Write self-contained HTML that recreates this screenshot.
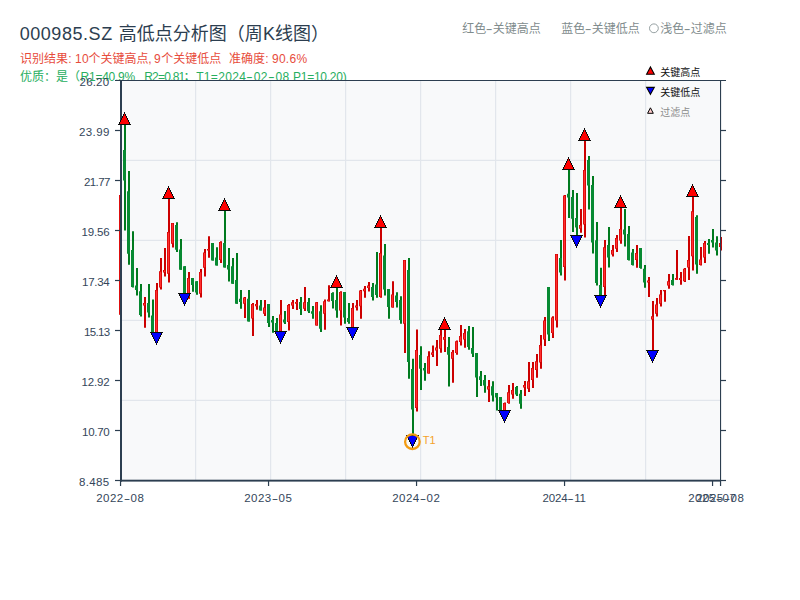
<!DOCTYPE html>
<html lang="zh"><head><meta charset="utf-8"><title>000985.SZ 高低点分析图</title><style>
html,body{margin:0;padding:0;background:#fff}
body{width:800px;height:600px;position:relative;overflow:hidden;font-family:"Liberation Sans","Noto Sans CJK SC",sans-serif}
.ln{position:absolute;left:0;width:800px;white-space:nowrap}
.r{position:absolute;top:0}
.hy{display:inline-block;font-style:normal;text-align:center;transform:scaleX(1.7)}
.chart{position:absolute;left:0;top:0}
.title{color:#2c3e50}
.red{color:#e74c3c}
.green{color:#27ae60}
.gray{color:#7f8c8d}
.ax{color:#34465a}
.t1{color:#f4a22a}
.lg{color:#111}
.lgf{color:#8c8c8c}
</style></head><body><div class="ln title" style="top:21.26px;font-size:18px;line-height:27px;height:27px;"><span class="r" style="left:19.7px"><span style="letter-spacing:0.548px">000985.SZ</span></span><span class="r" style="left:118.7px">高低点分析图（周</span><span class="r" style="left:263.0px"><span>K</span></span><span class="r" style="left:275.0px">线图）</span></div><div class="ln red" style="top:50.04px;font-size:12px;line-height:18px;height:18px;"><span class="r" style="left:20px">识别结果</span><span class="r" style="left:68.2px"><span>:</span></span><span class="r" style="left:75px"><span style="letter-spacing:0.426px">10</span></span><span class="r" style="left:88.6px">个关键高点</span><span class="r" style="left:148.2px"><span>,</span></span><span class="r" style="left:153.9px"><span>9</span></span><span class="r" style="left:161.2px">个关键低点</span><span class="r" style="left:229px">准确度</span><span class="r" style="left:265.3px"><span>:</span></span><span class="r" style="left:272px"><span style="letter-spacing:0.255px">90.6%</span></span></div><div class="ln green" style="top:68.44px;font-size:12px;line-height:18px;height:18px;"><span class="r" style="left:20px">优质</span><span class="r" style="left:44px">：</span><span class="r" style="left:56px">是（</span><span class="r" style="left:80.6px"><span style="letter-spacing:-0.272px">R1=40.9%</span></span><span class="r" style="left:144.2px"><span style="letter-spacing:-0.772px">R2=0.81</span></span><span class="r" style="left:183.5px">；</span><span class="r" style="left:196.2px"><span style="letter-spacing:0.338px">T1=2024<i class="hy" style="width:7.6px">-</i>02<i class="hy" style="width:7.6px">-</i>08</span></span><span class="r" style="left:293.0px"><span style="letter-spacing:-0.257px">P1=10.20)</span></span></div><div class="ln gray" style="top:19.64px;font-size:12px;line-height:18px;height:18px;"><span class="r" style="left:462.3px">红色</span><span class="r" style="left:486.3px"><span><i class="hy" style="width:6.5px">-</i></span></span><span class="r" style="left:492.8px">关键高点</span><span class="r" style="left:561.3px">蓝色</span><span class="r" style="left:585.3px"><span><i class="hy" style="width:6.5px">-</i></span></span><span class="r" style="left:591.8px">关键低点</span><span class="r" style="left:660.3px">浅色</span><span class="r" style="left:684.3px"><span><i class="hy" style="width:6.5px">-</i></span></span><span class="r" style="left:690.8px">过滤点</span></div><svg class="chart" width="800" height="600" viewBox="0 0 800 600"><rect x="121" y="80.5" width="599.5" height="400" fill="#f8f9fa"/><rect x="195.0" y="81" width="1.2" height="399" fill="#e2e6ec"/><rect x="270.0" y="81" width="1.2" height="399" fill="#e2e6ec"/><rect x="345.0" y="81" width="1.2" height="399" fill="#e2e6ec"/><rect x="420.0" y="81" width="1.2" height="399" fill="#e2e6ec"/><rect x="495.0" y="81" width="1.2" height="399" fill="#e2e6ec"/><rect x="570.0" y="81" width="1.2" height="399" fill="#e2e6ec"/><rect x="645.0" y="81" width="1.2" height="399" fill="#e2e6ec"/><rect x="122" y="159.8" width="598" height="1.2" fill="#e2e6ec"/><rect x="122" y="239.8" width="598" height="1.2" fill="#e2e6ec"/><rect x="122" y="319.8" width="598" height="1.2" fill="#e2e6ec"/><rect x="122" y="399.8" width="598" height="1.2" fill="#e2e6ec"/><path d="M120 195.00h2V314.75h-2zM144 296.90h2V327.75h-2zM156 283.10h2V338.00h-2zM160 258.10h2V289.50h-2zM164 248.10h2V276.60h-2zM168 192.00h2V282.50h-2zM172 223.00h2V247.50h-2zM188 272.10h2V298.75h-2zM200 269.00h2V297.60h-2zM204 249.10h2V276.60h-2zM208 236.20h2V257.75h-2zM220 241.25h2V262.90h-2zM244 296.90h2V317.90h-2zM252 303.10h2V335.90h-2zM256 300.00h2V309.75h-2zM264 300.00h2V315.90h-2zM280 300.00h2V337.00h-2zM288 304.10h2V330.60h-2zM292 300.00h2V309.00h-2zM296 299.00h2V310.00h-2zM304 287.10h2V310.90h-2zM316 301.90h2V325.60h-2zM324 299.40h2V329.75h-2zM328 285.25h2V301.50h-2zM340 291.25h2V325.60h-2zM352 303.10h2V333.00h-2zM356 300.00h2V310.60h-2zM360 290.00h2V318.75h-2zM364 286.00h2V297.75h-2zM368 282.10h2V291.50h-2zM380 221.00h2V297.75h-2zM392 281.25h2V307.50h-2zM404 260.00h2V352.90h-2zM416 329.40h2V411.60h-2zM428 351.25h2V373.60h-2zM432 345.40h2V356.90h-2zM436 340.00h2V365.90h-2zM440 327.00h2V352.75h-2zM444 323.00h2V351.90h-2zM452 350.00h2V382.70h-2zM456 340.60h2V354.75h-2zM460 325.00h2V345.60h-2zM464 329.00h2V347.75h-2zM488 380.00h2V401.90h-2zM504 402.50h2V416.00h-2zM508 385.00h2V403.75h-2zM512 382.90h2V398.75h-2zM524 381.00h2V396.00h-2zM528 361.90h2V391.90h-2zM532 361.90h2V387.90h-2zM536 354.00h2V377.75h-2zM540 335.00h2V368.75h-2zM544 316.90h2V345.90h-2zM552 316.25h2V337.90h-2zM556 254.10h2V327.50h-2zM564 195.00h2V280.60h-2zM580 209.10h2V232.75h-2zM584 134.00h2V237.50h-2zM604 240.00h2V296.00h-2zM612 245.00h2V256.50h-2zM616 235.00h2V251.90h-2zM620 201.00h2V243.75h-2zM636 245.00h2V267.75h-2zM648 276.90h2V296.90h-2zM652 301.00h2V356.00h-2zM656 298.10h2V316.50h-2zM660 290.00h2V306.60h-2zM664 290.00h2V301.70h-2zM668 274.00h2V288.75h-2zM676 250.00h2V279.75h-2zM680 272.10h2V284.75h-2zM684 268.10h2V281.90h-2zM688 236.00h2V280.00h-2zM692 190.00h2V270.60h-2zM700 246.90h2V265.60h-2zM704 241.00h2V262.90h-2zM720 236.90h2V250.60h-2z" fill="#cc0000"/><path d="M124 118.00h2V230.50h-2zM128 171.00h2V264.75h-2zM132 231.20h2V287.50h-2zM136 268.10h2V295.60h-2zM140 284.10h2V316.60h-2zM148 284.10h2V317.50h-2zM152 299.40h2V333.50h-2zM176 222.20h2V251.90h-2zM180 239.00h2V269.75h-2zM184 266.25h2V299.00h-2zM192 278.10h2V291.75h-2zM196 281.25h2V294.75h-2zM212 243.10h2V260.60h-2zM216 247.25h2V265.60h-2zM224 204.00h2V267.50h-2zM228 248.10h2V281.60h-2zM232 258.10h2V283.75h-2zM236 252.90h2V303.75h-2zM240 290.00h2V308.75h-2zM248 290.00h2V321.60h-2zM260 300.00h2V310.60h-2zM268 304.10h2V326.90h-2zM272 316.00h2V332.75h-2zM276 318.10h2V335.00h-2zM284 311.00h2V324.00h-2zM300 296.90h2V315.00h-2zM308 298.10h2V312.90h-2zM312 306.00h2V318.75h-2zM320 305.25h2V331.90h-2zM332 292.25h2V308.50h-2zM336 281.00h2V317.75h-2zM344 291.90h2V323.75h-2zM348 303.10h2V323.75h-2zM372 283.10h2V300.60h-2zM376 251.90h2V297.75h-2zM384 244.10h2V295.60h-2zM388 289.00h2V318.75h-2zM396 292.25h2V307.50h-2zM400 296.25h2V323.75h-2zM408 258.10h2V378.75h-2zM412 358.75h2V436.00h-2zM420 346.25h2V390.00h-2zM424 363.10h2V380.80h-2zM448 336.90h2V386.60h-2zM468 326.00h2V349.75h-2zM472 326.90h2V356.90h-2zM476 353.10h2V396.90h-2zM480 371.00h2V385.90h-2zM484 375.00h2V392.75h-2zM492 381.25h2V401.60h-2zM496 393.10h2V410.60h-2zM500 397.10h2V412.00h-2zM516 386.00h2V396.00h-2zM520 390.00h2V408.75h-2zM548 286.90h2V340.90h-2zM560 240.00h2V275.60h-2zM568 163.00h2V217.90h-2zM572 190.00h2V231.90h-2zM576 193.10h2V241.00h-2zM588 156.00h2V209.40h-2zM592 176.00h2V253.50h-2zM596 222.10h2V285.60h-2zM600 267.80h2V301.00h-2zM608 227.10h2V267.50h-2zM624 209.00h2V246.60h-2zM628 226.00h2V260.60h-2zM632 249.00h2V265.60h-2zM640 248.10h2V268.75h-2zM644 265.00h2V287.75h-2zM672 274.00h2V285.60h-2zM696 215.25h2V273.75h-2zM708 239.00h2V253.75h-2zM712 229.00h2V247.50h-2zM716 236.25h2V255.60h-2z" fill="#007a1e"/><path d="M119 195.00h3V314.75h-3zM143 303.10h3V305.60h-3zM155 290.00h3V335.00h-3zM159 271.25h3V287.50h-3zM163 270.00h3V272.50h-3zM167 232.00h3V273.75h-3zM171 223.00h3V243.75h-3zM187 278.10h3V298.75h-3zM199 271.90h3V293.75h-3zM203 252.50h3V267.75h-3zM207 249.10h3V250.60h-3zM219 242.00h3V260.00h-3zM243 297.50h3V303.75h-3zM251 304.00h3V318.50h-3zM255 304.00h3V306.25h-3zM263 307.50h3V313.75h-3zM279 314.40h3V335.00h-3zM287 305.00h3V321.90h-3zM291 302.25h3V305.60h-3zM295 301.90h3V303.75h-3zM303 302.25h3V308.75h-3zM315 302.25h3V325.60h-3zM323 301.25h3V313.75h-3zM327 299.40h3V301.25h-3zM339 291.90h3V310.60h-3zM351 308.10h3V330.00h-3zM355 305.60h3V307.50h-3zM359 290.60h3V306.25h-3zM363 288.75h3V291.25h-3zM367 285.60h3V288.10h-3zM379 253.10h3V296.90h-3zM391 294.40h3V307.50h-3zM403 260.00h3V323.75h-3zM415 350.00h3V408.00h-3zM427 356.25h3V373.60h-3zM431 352.50h3V354.75h-3zM435 347.50h3V350.60h-3zM439 335.00h3V348.75h-3zM443 336.90h3V339.75h-3zM451 351.90h3V358.75h-3zM455 341.25h3V353.10h-3zM459 336.00h3V341.90h-3zM463 333.10h3V339.40h-3zM487 386.25h3V389.40h-3zM503 403.00h3V414.00h-3zM507 392.25h3V403.10h-3zM511 390.00h3V394.40h-3zM523 385.00h3V387.50h-3zM527 381.25h3V388.75h-3zM531 368.10h3V380.00h-3zM535 361.25h3V370.00h-3zM539 345.00h3V362.50h-3zM543 320.60h3V339.40h-3zM551 317.50h3V333.10h-3zM555 254.10h3V320.60h-3zM563 195.60h3V266.90h-3zM579 225.00h3V228.75h-3zM583 170.00h3V224.40h-3zM603 247.25h3V286.90h-3zM611 250.00h3V254.40h-3zM615 238.00h3V248.75h-3zM619 229.10h3V240.60h-3zM635 253.10h3V260.00h-3zM647 280.60h3V282.50h-3zM651 316.25h3V319.40h-3zM655 304.40h3V313.75h-3zM659 294.40h3V303.75h-3zM663 290.00h3V291.25h-3zM667 281.25h3V285.60h-3zM675 278.10h3V279.75h-3zM679 278.10h3V280.00h-3zM683 268.75h3V281.25h-3zM687 260.00h3V267.50h-3zM691 211.25h3V256.25h-3zM699 259.40h3V265.00h-3zM703 243.10h3V257.50h-3zM719 243.10h3V246.90h-3z" fill="#d00000"/><path d="M119.7 195.40h1.5V314.35h-1.5zM143.7 303.50h1.5V305.20h-1.5zM155.7 290.40h1.5V334.60h-1.5zM159.7 271.65h1.5V287.10h-1.5zM163.7 270.40h1.5V272.10h-1.5zM167.7 232.40h1.5V273.35h-1.5zM171.7 223.40h1.5V243.35h-1.5zM187.7 278.50h1.5V298.35h-1.5zM199.7 272.30h1.5V293.35h-1.5zM203.7 252.90h1.5V267.35h-1.5zM207.7 249.50h1.5V250.20h-1.5zM219.7 242.40h1.5V259.60h-1.5zM243.7 297.90h1.5V303.35h-1.5zM251.7 304.40h1.5V318.10h-1.5zM255.7 304.40h1.5V305.85h-1.5zM263.7 307.90h1.5V313.35h-1.5zM279.7 314.80h1.5V334.60h-1.5zM287.7 305.40h1.5V321.50h-1.5zM291.7 302.65h1.5V305.20h-1.5zM295.7 302.30h1.5V303.35h-1.5zM303.7 302.65h1.5V308.35h-1.5zM315.7 302.65h1.5V325.20h-1.5zM323.7 301.65h1.5V313.35h-1.5zM327.7 299.80h1.5V300.85h-1.5zM339.7 292.30h1.5V310.20h-1.5zM351.7 308.50h1.5V329.60h-1.5zM355.7 306.00h1.5V307.10h-1.5zM359.7 291.00h1.5V305.85h-1.5zM363.7 289.15h1.5V290.85h-1.5zM367.7 286.00h1.5V287.70h-1.5zM379.7 253.50h1.5V296.50h-1.5zM391.7 294.80h1.5V307.10h-1.5zM403.7 260.40h1.5V323.35h-1.5zM415.7 350.40h1.5V407.60h-1.5zM427.7 356.65h1.5V373.20h-1.5zM431.7 352.90h1.5V354.35h-1.5zM435.7 347.90h1.5V350.20h-1.5zM439.7 335.40h1.5V348.35h-1.5zM443.7 337.30h1.5V339.35h-1.5zM451.7 352.30h1.5V358.35h-1.5zM455.7 341.65h1.5V352.70h-1.5zM459.7 336.40h1.5V341.50h-1.5zM463.7 333.50h1.5V339.00h-1.5zM487.7 386.65h1.5V389.00h-1.5zM503.7 403.40h1.5V413.60h-1.5zM507.7 392.65h1.5V402.70h-1.5zM511.7 390.40h1.5V394.00h-1.5zM523.7 385.40h1.5V387.10h-1.5zM527.7 381.65h1.5V388.35h-1.5zM531.7 368.50h1.5V379.60h-1.5zM535.7 361.65h1.5V369.60h-1.5zM539.7 345.40h1.5V362.10h-1.5zM543.7 321.00h1.5V339.00h-1.5zM551.7 317.90h1.5V332.70h-1.5zM555.7 254.50h1.5V320.20h-1.5zM563.7 196.00h1.5V266.50h-1.5zM579.7 225.40h1.5V228.35h-1.5zM583.7 170.40h1.5V224.00h-1.5zM603.7 247.65h1.5V286.50h-1.5zM611.7 250.40h1.5V254.00h-1.5zM615.7 238.40h1.5V248.35h-1.5zM619.7 229.50h1.5V240.20h-1.5zM635.7 253.50h1.5V259.60h-1.5zM647.7 281.00h1.5V282.10h-1.5zM651.7 316.65h1.5V319.00h-1.5zM655.7 304.80h1.5V313.35h-1.5zM659.7 294.80h1.5V303.35h-1.5zM663.7 290.40h1.5V290.85h-1.5zM667.7 281.65h1.5V285.20h-1.5zM675.7 278.50h1.5V279.35h-1.5zM679.7 278.50h1.5V279.60h-1.5zM683.7 269.15h1.5V280.85h-1.5zM687.7 260.40h1.5V267.10h-1.5zM691.7 211.65h1.5V255.85h-1.5zM699.7 259.80h1.5V264.60h-1.5zM703.7 243.50h1.5V257.10h-1.5zM719.7 243.50h1.5V246.50h-1.5z" fill="#ff3030"/><path d="M123 150.00h3V180.50h-3zM127 191.20h3V253.75h-3zM131 250.00h3V287.00h-3zM135 285.60h3V290.00h-3zM139 291.20h3V315.00h-3zM147 303.10h3V312.50h-3zM151 315.60h3V333.50h-3zM175 225.00h3V249.75h-3zM179 249.40h3V269.75h-3zM183 266.25h3V299.00h-3zM191 278.10h3V285.00h-3zM195 281.25h3V292.50h-3zM211 243.10h3V260.60h-3zM215 257.50h3V265.60h-3zM223 243.10h3V267.40h-3zM227 265.00h3V269.40h-3zM231 266.25h3V283.75h-3zM235 280.00h3V303.75h-3zM239 298.75h3V301.90h-3zM247 298.75h3V321.60h-3zM259 305.60h3V310.60h-3zM267 304.10h3V323.10h-3zM271 320.00h3V322.50h-3zM275 323.10h3V333.00h-3zM283 319.40h3V322.50h-3zM299 301.90h3V309.00h-3zM307 301.90h3V311.25h-3zM311 311.25h3V313.75h-3zM319 311.25h3V328.75h-3zM331 293.00h3V301.00h-3zM335 300.00h3V310.60h-3zM343 291.90h3V317.50h-3zM347 318.10h3V321.90h-3zM371 286.90h3V296.90h-3zM375 284.40h3V295.00h-3zM383 255.60h3V289.40h-3zM387 289.00h3V306.90h-3zM395 295.60h3V301.90h-3zM399 300.00h3V320.00h-3zM407 270.00h3V361.90h-3zM411 369.00h3V409.40h-3zM419 355.00h3V368.75h-3zM423 368.10h3V370.60h-3zM447 346.90h3V354.75h-3zM467 331.25h3V346.90h-3zM471 348.10h3V353.75h-3zM475 353.10h3V377.50h-3zM479 376.25h3V380.00h-3zM483 380.00h3V385.60h-3zM491 386.25h3V395.60h-3zM495 393.10h3V397.50h-3zM499 397.10h3V412.00h-3zM515 386.90h3V394.40h-3zM519 393.75h3V403.75h-3zM547 286.90h3V334.40h-3zM559 258.10h3V272.50h-3zM567 193.75h3V197.50h-3zM571 196.90h3V218.75h-3zM575 218.00h3V227.50h-3zM587 160.00h3V185.60h-3zM591 185.00h3V242.50h-3zM595 240.25h3V283.10h-3zM599 285.00h3V301.00h-3zM607 245.00h3V257.50h-3zM623 229.40h3V234.60h-3zM627 234.00h3V260.00h-3zM631 252.50h3V265.00h-3zM639 248.10h3V268.10h-3zM643 268.75h3V282.50h-3zM671 280.00h3V285.00h-3zM695 216.90h3V264.40h-3zM707 243.10h3V245.00h-3zM711 240.00h3V242.50h-3zM715 242.50h3V250.60h-3z" fill="#078a32"/><rect x="120" y="80" width="2" height="401.6" fill="#2c3e50"/><rect x="120" y="479.7" width="601" height="1.9" fill="#2c3e50"/><rect x="115" y="80" width="611" height="1" fill="#2c3e50"/><rect x="720" y="80" width="1.1" height="401" fill="#2c3e50"/><rect x="115" y="129.9" width="5.5" height="1.2" fill="#2c3e50"/><rect x="720.5" y="129.9" width="5.5" height="1.2" fill="#2c3e50"/><rect x="115" y="179.9" width="5.5" height="1.2" fill="#2c3e50"/><rect x="720.5" y="179.9" width="5.5" height="1.2" fill="#2c3e50"/><rect x="115" y="229.9" width="5.5" height="1.2" fill="#2c3e50"/><rect x="720.5" y="229.9" width="5.5" height="1.2" fill="#2c3e50"/><rect x="115" y="279.9" width="5.5" height="1.2" fill="#2c3e50"/><rect x="720.5" y="279.9" width="5.5" height="1.2" fill="#2c3e50"/><rect x="115" y="329.9" width="5.5" height="1.2" fill="#2c3e50"/><rect x="720.5" y="329.9" width="5.5" height="1.2" fill="#2c3e50"/><rect x="115" y="379.9" width="5.5" height="1.2" fill="#2c3e50"/><rect x="720.5" y="379.9" width="5.5" height="1.2" fill="#2c3e50"/><rect x="115" y="429.9" width="5.5" height="1.2" fill="#2c3e50"/><rect x="720.5" y="429.9" width="5.5" height="1.2" fill="#2c3e50"/><rect x="115" y="479.9" width="5.5" height="1.2" fill="#2c3e50"/><rect x="720.5" y="479.9" width="5.5" height="1.2" fill="#2c3e50"/><rect x="119.95" y="481" width="1.2" height="5" fill="#2c3e50"/><rect x="267.95" y="481" width="1.2" height="5" fill="#2c3e50"/><rect x="415.95" y="481" width="1.2" height="5" fill="#2c3e50"/><rect x="563.95" y="481" width="1.2" height="5" fill="#2c3e50"/><rect x="711.95" y="481" width="1.2" height="5" fill="#2c3e50"/><rect x="719.95" y="481" width="1.2" height="5" fill="#2c3e50"/><path d="M124 112h1v1h-1zM124 113h1v1h-1zM123 114h3v1h-3zM123 115h3v1h-3zM122 116h5v1h-5zM122 117h5v1h-5zM121 118h7v1h-7zM121 119h7v1h-7zM120 120h9v1h-9zM120 121h9v1h-9zM119 122h11v1h-11zM119 123h11v1h-11zM118 124h13v1h-13z" fill="#0a0a0a"/><path d="M124 114h1v1h-1zM124 115h1v1h-1zM123 116h3v1h-3zM123 117h3v1h-3zM122 118h5v1h-5zM122 119h5v1h-5zM121 120h7v1h-7zM121 121h7v1h-7zM120 122h9v1h-9zM120 123h9v1h-9z" fill="#ff0000"/><path d="M168 186h1v1h-1zM168 187h1v1h-1zM167 188h3v1h-3zM167 189h3v1h-3zM166 190h5v1h-5zM166 191h5v1h-5zM165 192h7v1h-7zM165 193h7v1h-7zM164 194h9v1h-9zM164 195h9v1h-9zM163 196h11v1h-11zM163 197h11v1h-11zM162 198h13v1h-13z" fill="#0a0a0a"/><path d="M168 188h1v1h-1zM168 189h1v1h-1zM167 190h3v1h-3zM167 191h3v1h-3zM166 192h5v1h-5zM166 193h5v1h-5zM165 194h7v1h-7zM165 195h7v1h-7zM164 196h9v1h-9zM164 197h9v1h-9z" fill="#ff0000"/><path d="M224 198h1v1h-1zM224 199h1v1h-1zM223 200h3v1h-3zM223 201h3v1h-3zM222 202h5v1h-5zM222 203h5v1h-5zM221 204h7v1h-7zM221 205h7v1h-7zM220 206h9v1h-9zM220 207h9v1h-9zM219 208h11v1h-11zM219 209h11v1h-11zM218 210h13v1h-13z" fill="#0a0a0a"/><path d="M224 200h1v1h-1zM224 201h1v1h-1zM223 202h3v1h-3zM223 203h3v1h-3zM222 204h5v1h-5zM222 205h5v1h-5zM221 206h7v1h-7zM221 207h7v1h-7zM220 208h9v1h-9zM220 209h9v1h-9z" fill="#ff0000"/><path d="M336 275h1v1h-1zM336 276h1v1h-1zM335 277h3v1h-3zM335 278h3v1h-3zM334 279h5v1h-5zM334 280h5v1h-5zM333 281h7v1h-7zM333 282h7v1h-7zM332 283h9v1h-9zM332 284h9v1h-9zM331 285h11v1h-11zM331 286h11v1h-11zM330 287h13v1h-13z" fill="#0a0a0a"/><path d="M336 277h1v1h-1zM336 278h1v1h-1zM335 279h3v1h-3zM335 280h3v1h-3zM334 281h5v1h-5zM334 282h5v1h-5zM333 283h7v1h-7zM333 284h7v1h-7zM332 285h9v1h-9zM332 286h9v1h-9z" fill="#ff0000"/><path d="M380 215h1v1h-1zM380 216h1v1h-1zM379 217h3v1h-3zM379 218h3v1h-3zM378 219h5v1h-5zM378 220h5v1h-5zM377 221h7v1h-7zM377 222h7v1h-7zM376 223h9v1h-9zM376 224h9v1h-9zM375 225h11v1h-11zM375 226h11v1h-11zM374 227h13v1h-13z" fill="#0a0a0a"/><path d="M380 217h1v1h-1zM380 218h1v1h-1zM379 219h3v1h-3zM379 220h3v1h-3zM378 221h5v1h-5zM378 222h5v1h-5zM377 223h7v1h-7zM377 224h7v1h-7zM376 225h9v1h-9zM376 226h9v1h-9z" fill="#ff0000"/><path d="M444 317h1v1h-1zM444 318h1v1h-1zM443 319h3v1h-3zM443 320h3v1h-3zM442 321h5v1h-5zM442 322h5v1h-5zM441 323h7v1h-7zM441 324h7v1h-7zM440 325h9v1h-9zM440 326h9v1h-9zM439 327h11v1h-11zM439 328h11v1h-11zM438 329h13v1h-13z" fill="#0a0a0a"/><path d="M444 319h1v1h-1zM444 320h1v1h-1zM443 321h3v1h-3zM443 322h3v1h-3zM442 323h5v1h-5zM442 324h5v1h-5zM441 325h7v1h-7zM441 326h7v1h-7zM440 327h9v1h-9zM440 328h9v1h-9z" fill="#ff0000"/><path d="M568 157h1v1h-1zM568 158h1v1h-1zM567 159h3v1h-3zM567 160h3v1h-3zM566 161h5v1h-5zM566 162h5v1h-5zM565 163h7v1h-7zM565 164h7v1h-7zM564 165h9v1h-9zM564 166h9v1h-9zM563 167h11v1h-11zM563 168h11v1h-11zM562 169h13v1h-13z" fill="#0a0a0a"/><path d="M568 159h1v1h-1zM568 160h1v1h-1zM567 161h3v1h-3zM567 162h3v1h-3zM566 163h5v1h-5zM566 164h5v1h-5zM565 165h7v1h-7zM565 166h7v1h-7zM564 167h9v1h-9zM564 168h9v1h-9z" fill="#ff0000"/><path d="M584 128h1v1h-1zM584 129h1v1h-1zM583 130h3v1h-3zM583 131h3v1h-3zM582 132h5v1h-5zM582 133h5v1h-5zM581 134h7v1h-7zM581 135h7v1h-7zM580 136h9v1h-9zM580 137h9v1h-9zM579 138h11v1h-11zM579 139h11v1h-11zM578 140h13v1h-13z" fill="#0a0a0a"/><path d="M584 130h1v1h-1zM584 131h1v1h-1zM583 132h3v1h-3zM583 133h3v1h-3zM582 134h5v1h-5zM582 135h5v1h-5zM581 136h7v1h-7zM581 137h7v1h-7zM580 138h9v1h-9zM580 139h9v1h-9z" fill="#ff0000"/><path d="M620 195h1v1h-1zM620 196h1v1h-1zM619 197h3v1h-3zM619 198h3v1h-3zM618 199h5v1h-5zM618 200h5v1h-5zM617 201h7v1h-7zM617 202h7v1h-7zM616 203h9v1h-9zM616 204h9v1h-9zM615 205h11v1h-11zM615 206h11v1h-11zM614 207h13v1h-13z" fill="#0a0a0a"/><path d="M620 197h1v1h-1zM620 198h1v1h-1zM619 199h3v1h-3zM619 200h3v1h-3zM618 201h5v1h-5zM618 202h5v1h-5zM617 203h7v1h-7zM617 204h7v1h-7zM616 205h9v1h-9zM616 206h9v1h-9z" fill="#ff0000"/><path d="M692 184h1v1h-1zM692 185h1v1h-1zM691 186h3v1h-3zM691 187h3v1h-3zM690 188h5v1h-5zM690 189h5v1h-5zM689 190h7v1h-7zM689 191h7v1h-7zM688 192h9v1h-9zM688 193h9v1h-9zM687 194h11v1h-11zM687 195h11v1h-11zM686 196h13v1h-13z" fill="#0a0a0a"/><path d="M692 186h1v1h-1zM692 187h1v1h-1zM691 188h3v1h-3zM691 189h3v1h-3zM690 190h5v1h-5zM690 191h5v1h-5zM689 192h7v1h-7zM689 193h7v1h-7zM688 194h9v1h-9zM688 195h9v1h-9z" fill="#ff0000"/><path d="M156 344h1v1h-1zM156 343h1v1h-1zM155 342h3v1h-3zM155 341h3v1h-3zM154 340h5v1h-5zM154 339h5v1h-5zM153 338h7v1h-7zM153 337h7v1h-7zM152 336h9v1h-9zM152 335h9v1h-9zM151 334h11v1h-11zM151 333h11v1h-11zM150 332h13v1h-13z" fill="#0a0a0a"/><path d="M156 342h1v1h-1zM156 341h1v1h-1zM155 340h3v1h-3zM155 339h3v1h-3zM154 338h5v1h-5zM154 337h5v1h-5zM153 336h7v1h-7zM153 335h7v1h-7zM152 334h9v1h-9zM152 333h9v1h-9z" fill="#0000ff"/><path d="M184 305h1v1h-1zM184 304h1v1h-1zM183 303h3v1h-3zM183 302h3v1h-3zM182 301h5v1h-5zM182 300h5v1h-5zM181 299h7v1h-7zM181 298h7v1h-7zM180 297h9v1h-9zM180 296h9v1h-9zM179 295h11v1h-11zM179 294h11v1h-11zM178 293h13v1h-13z" fill="#0a0a0a"/><path d="M184 303h1v1h-1zM184 302h1v1h-1zM183 301h3v1h-3zM183 300h3v1h-3zM182 299h5v1h-5zM182 298h5v1h-5zM181 297h7v1h-7zM181 296h7v1h-7zM180 295h9v1h-9zM180 294h9v1h-9z" fill="#0000ff"/><path d="M280 343h1v1h-1zM280 342h1v1h-1zM279 341h3v1h-3zM279 340h3v1h-3zM278 339h5v1h-5zM278 338h5v1h-5zM277 337h7v1h-7zM277 336h7v1h-7zM276 335h9v1h-9zM276 334h9v1h-9zM275 333h11v1h-11zM275 332h11v1h-11zM274 331h13v1h-13z" fill="#0a0a0a"/><path d="M280 341h1v1h-1zM280 340h1v1h-1zM279 339h3v1h-3zM279 338h3v1h-3zM278 337h5v1h-5zM278 336h5v1h-5zM277 335h7v1h-7zM277 334h7v1h-7zM276 333h9v1h-9zM276 332h9v1h-9z" fill="#0000ff"/><path d="M352 339h1v1h-1zM352 338h1v1h-1zM351 337h3v1h-3zM351 336h3v1h-3zM350 335h5v1h-5zM350 334h5v1h-5zM349 333h7v1h-7zM349 332h7v1h-7zM348 331h9v1h-9zM348 330h9v1h-9zM347 329h11v1h-11zM347 328h11v1h-11zM346 327h13v1h-13z" fill="#0a0a0a"/><path d="M352 337h1v1h-1zM352 336h1v1h-1zM351 335h3v1h-3zM351 334h3v1h-3zM350 333h5v1h-5zM350 332h5v1h-5zM349 331h7v1h-7zM349 330h7v1h-7zM348 329h9v1h-9zM348 328h9v1h-9z" fill="#0000ff"/><path d="M412 447h1v1h-1zM412 446h1v1h-1zM411 445h3v1h-3zM411 444h3v1h-3zM410 443h5v1h-5zM410 442h5v1h-5zM409 441h7v1h-7zM409 440h7v1h-7zM408 439h9v1h-9zM408 438h9v1h-9zM407 437h11v1h-11zM407 436h11v1h-11zM406 435h13v1h-13z" fill="#0a0a0a"/><path d="M412 445h1v1h-1zM412 444h1v1h-1zM411 443h3v1h-3zM411 442h3v1h-3zM410 441h5v1h-5zM410 440h5v1h-5zM409 439h7v1h-7zM409 438h7v1h-7zM408 437h9v1h-9zM408 436h9v1h-9z" fill="#0000ff"/><path d="M504 422h1v1h-1zM504 421h1v1h-1zM503 420h3v1h-3zM503 419h3v1h-3zM502 418h5v1h-5zM502 417h5v1h-5zM501 416h7v1h-7zM501 415h7v1h-7zM500 414h9v1h-9zM500 413h9v1h-9zM499 412h11v1h-11zM499 411h11v1h-11zM498 410h13v1h-13z" fill="#0a0a0a"/><path d="M504 420h1v1h-1zM504 419h1v1h-1zM503 418h3v1h-3zM503 417h3v1h-3zM502 416h5v1h-5zM502 415h5v1h-5zM501 414h7v1h-7zM501 413h7v1h-7zM500 412h9v1h-9zM500 411h9v1h-9z" fill="#0000ff"/><path d="M576 247h1v1h-1zM576 246h1v1h-1zM575 245h3v1h-3zM575 244h3v1h-3zM574 243h5v1h-5zM574 242h5v1h-5zM573 241h7v1h-7zM573 240h7v1h-7zM572 239h9v1h-9zM572 238h9v1h-9zM571 237h11v1h-11zM571 236h11v1h-11zM570 235h13v1h-13z" fill="#0a0a0a"/><path d="M576 245h1v1h-1zM576 244h1v1h-1zM575 243h3v1h-3zM575 242h3v1h-3zM574 241h5v1h-5zM574 240h5v1h-5zM573 239h7v1h-7zM573 238h7v1h-7zM572 237h9v1h-9zM572 236h9v1h-9z" fill="#0000ff"/><path d="M600 307h1v1h-1zM600 306h1v1h-1zM599 305h3v1h-3zM599 304h3v1h-3zM598 303h5v1h-5zM598 302h5v1h-5zM597 301h7v1h-7zM597 300h7v1h-7zM596 299h9v1h-9zM596 298h9v1h-9zM595 297h11v1h-11zM595 296h11v1h-11zM594 295h13v1h-13z" fill="#0a0a0a"/><path d="M600 305h1v1h-1zM600 304h1v1h-1zM599 303h3v1h-3zM599 302h3v1h-3zM598 301h5v1h-5zM598 300h5v1h-5zM597 299h7v1h-7zM597 298h7v1h-7zM596 297h9v1h-9zM596 296h9v1h-9z" fill="#0000ff"/><path d="M652 362h1v1h-1zM652 361h1v1h-1zM651 360h3v1h-3zM651 359h3v1h-3zM650 358h5v1h-5zM650 357h5v1h-5zM649 356h7v1h-7zM649 355h7v1h-7zM648 354h9v1h-9zM648 353h9v1h-9zM647 352h11v1h-11zM647 351h11v1h-11zM646 350h13v1h-13z" fill="#0a0a0a"/><path d="M652 360h1v1h-1zM652 359h1v1h-1zM651 358h3v1h-3zM651 357h3v1h-3zM650 356h5v1h-5zM650 355h5v1h-5zM649 354h7v1h-7zM649 353h7v1h-7zM648 352h9v1h-9zM648 351h9v1h-9z" fill="#0000ff"/><circle cx="412.4" cy="441.7" r="7.3" fill="none" stroke="#f39c12" stroke-width="2.3"/><path d="M650.45 66.9L654.3 74.2H646.6z" fill="#ff0000" stroke="#000" stroke-width="1.1"/><path d="M650.45 94.3L654.3 87.4H646.6z" fill="#0000ff" stroke="#000" stroke-width="1.1"/><path d="M650.45 107.8L653.3 113.3H647.6z" fill="#ffcccc" stroke="#000" stroke-width="1.0"/><circle cx="653.9" cy="28.3" r="4.4" fill="none" stroke="#8a9597" stroke-width="0.9"/></svg><div class="ln ax" style="top:73.82px;font-size:11.5px;line-height:17px;height:17px;"><span class="r" style="left:79.55px"><span style="letter-spacing:0.184px">26.20</span></span></div><div class="ln ax" style="top:123.82px;font-size:11.5px;line-height:17px;height:17px;"><span class="r" style="left:78.95px"><span style="letter-spacing:0.424px">23.99</span></span></div><div class="ln ax" style="top:173.82px;font-size:11.5px;line-height:17px;height:17px;"><span class="r" style="left:83.95px"><span style="letter-spacing:-0.576px">21.77</span></span></div><div class="ln ax" style="top:223.82px;font-size:11.5px;line-height:17px;height:17px;"><span class="r" style="left:81.50px"><span style="letter-spacing:-0.166px">19.56</span></span></div><div class="ln ax" style="top:273.82px;font-size:11.5px;line-height:17px;height:17px;"><span class="r" style="left:82.10px"><span style="letter-spacing:-0.286px">17.34</span></span></div><div class="ln ax" style="top:323.82px;font-size:11.5px;line-height:17px;height:17px;"><span class="r" style="left:84.00px"><span style="letter-spacing:-0.666px">15.13</span></span></div><div class="ln ax" style="top:373.82px;font-size:11.5px;line-height:17px;height:17px;"><span class="r" style="left:81.50px"><span style="letter-spacing:-0.166px">12.92</span></span></div><div class="ln ax" style="top:423.82px;font-size:11.5px;line-height:17px;height:17px;"><span class="r" style="left:82.10px"><span style="letter-spacing:-0.286px">10.70</span></span></div><div class="ln ax" style="top:473.72px;font-size:11.5px;line-height:17px;height:17px;"><span class="r" style="left:78.95px"><span style="letter-spacing:0.344px">8.485</span></span></div><div class="ln ax" style="top:489.82px;font-size:11.5px;line-height:17px;height:17px;"><span class="r" style="left:96.20px"><span style="letter-spacing:0.489px">2022<i class="hy" style="width:6.8px">-</i>08</span></span></div><div class="ln ax" style="top:489.82px;font-size:11.5px;line-height:17px;height:17px;"><span class="r" style="left:244.20px"><span style="letter-spacing:0.489px">2023<i class="hy" style="width:6.8px">-</i>05</span></span></div><div class="ln ax" style="top:489.82px;font-size:11.5px;line-height:17px;height:17px;"><span class="r" style="left:392.20px"><span style="letter-spacing:0.489px">2024<i class="hy" style="width:6.8px">-</i>02</span></span></div><div class="ln ax" style="top:489.82px;font-size:11.5px;line-height:17px;height:17px;"><span class="r" style="left:542.50px"><span style="letter-spacing:-0.168px">2024<i class="hy" style="width:6.8px">-</i>11</span></span></div><div class="ln ax" style="top:489.82px;font-size:11.5px;line-height:17px;height:17px;"><span class="r" style="left:688.20px"><span style="letter-spacing:0.489px">2025<i class="hy" style="width:6.8px">-</i>07</span></span></div><div class="ln ax" style="top:489.82px;font-size:11.5px;line-height:17px;height:17px;"><span class="r" style="left:696.20px"><span style="letter-spacing:0.489px">2025<i class="hy" style="width:6.8px">-</i>08</span></span></div><div class="ln t1" style="top:432.49px;font-size:11px;line-height:16px;height:16px;"><span class="r" style="left:422.8px"><span style="letter-spacing:-0.118px">T1</span></span></div><div class="ln lg" style="top:64.94px;font-size:10px;line-height:15px;height:15px;"><span class="r" style="left:660.3px">关键高点</span></div><div class="ln lg" style="top:84.94px;font-size:10px;line-height:15px;height:15px;"><span class="r" style="left:660.3px">关键低点</span></div><div class="ln lg lgf" style="top:104.73px;font-size:10px;line-height:15px;height:15px;"><span class="r" style="left:660.3px">过滤点</span></div></body></html>
